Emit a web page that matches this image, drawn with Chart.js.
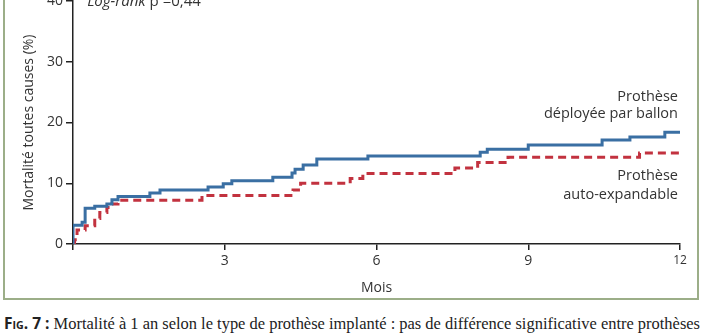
<!DOCTYPE html>
<html>
<head>
<meta charset="utf-8">
<script src="https://cdn.jsdelivr.net/npm/chart.js@4"></script>
<style>
  body { margin: 0; background: #fff; width: 702px; height: 336px; overflow: hidden; position: relative; }
  #box { position: absolute; left: 3px; top: -10px; width: 692px; height: 306px; border: 2px solid #9cae88; }
  #wrap { position: absolute; left: 0; top: -20px; width: 702px; height: 320px; }
  #caption { position: absolute; left: 4px; top: 312px; white-space: nowrap; font-family: "Liberation Serif", serif; font-size: 17px; color: #222; transform-origin: 0 0; }
  #caption b { font-family: "Open Sans", sans-serif; font-variant: small-caps; font-size: 16px; }
</style>
</head>
<body>
<div id="box"></div>
<div id="wrap"><canvas id="chart"></canvas></div>
<div id="caption"><b>Fig. 7 :</b> Mortalité à 1 an selon le type de prothèse implanté : pas de différence significative entre prothèses</div>

<script>
// courbes de Kaplan-Meier (mois / %)
var ballonMois = [0, 0, 0.18, 0.24, 0.43, 0.67, 0.77, 0.89, 1.52, 1.72, 2.67, 2.97, 3.14, 3.95, 4.33, 4.39, 4.55, 4.82, 5.83, 8.05, 8.19, 9.0, 10.46, 11.01, 11.7, 12];
var ballonVal  = [0, 3.1, 3.6, 5.9, 6.2, 6.6, 7.3, 7.8, 8.4, 8.9, 9.4, 9.9, 10.4, 11.0, 11.7, 12.3, 13.0, 14.0, 14.5, 15.1, 15.6, 16.3, 17.1, 17.6, 18.4, 18.4];

var autoMois = [0, 0.03, 0.08, 0.24, 0.43, 0.53, 0.67, 0.77, 0.89, 2.55, 4.35, 4.5, 5.48, 5.73, 7.55, 8.0, 8.6, 11.2, 12];
var autoVal  = [0, 0.7, 2.3, 3.0, 4.2, 5.2, 6.0, 6.6, 7.2, 8.0, 8.9, 10.0, 10.8, 11.6, 12.5, 13.4, 14.3, 15.0, 15.0];

var xTicks = [0, 3, 6, 9, 12];
var yTicks = [0, 10, 20, 30, 40];

function points(xs, ys) {
    return xs.map((x, i) => ({x: x, y: ys[i]}))
}

var textes = {
    id: "textes",
    afterDatasetsDraw(chart) {
        var c = chart.ctx;
        var sx = chart.scales.x, sy = chart.scales.y;
        c.save();
        c.fillStyle = "#333";
        c.textBaseline = "middle";
        // log-rank
        c.textAlign = "left";
        c.font = "italic 15px 'Open Sans'";
        var x0 = sx.getPixelForValue(0.28);
        c.fillText("Log-rank", x0, sy.getPixelForValue(40) + 1);
        var w = c.measureText("Log-rank").width;
        c.font = "15px 'Open Sans'";
        c.fillText(" p =0,44", x0 + w, sy.getPixelForValue(40) + 1);
        // étiquettes des courbes
        c.textAlign = "right";
        c.font = "14.5px 'Open Sans'";
        var xr = sx.getPixelForValue(11.96);
        c.fillText("Prothèse", xr, sy.getPixelForValue(24.3));
        c.fillText("déployée par ballon", xr, sy.getPixelForValue(21.5));
        c.fillText("Prothèse", xr, sy.getPixelForValue(11.2));
        c.fillText("auto-expandable", xr, sy.getPixelForValue(8.1));
        c.restore();
    }
}

new Chart(document.getElementById("chart"), {
    type: "line",
    data: {
        datasets: [{
            label: "Prothèse déployée par ballon",
            data: points(ballonMois, ballonVal),
            stepped: true,
            borderColor: "#3a6fa3",
            borderWidth: 3,
            pointRadius: 0,
            fill: false
        }, {
            label: "Prothèse auto-expandable",
            data: points(autoMois, autoVal),
            stepped: true,
            borderColor: "#c2323f",
            borderWidth: 3,
            borderDash: [8, 5],
            pointRadius: 0,
            fill: false
        }]
    },
    options: {
        responsive: true,
        maintainAspectRatio: false,
        animation: false,
        layout: { padding: { left: 0, right: 22, top: 21, bottom: 0 } },
        plugins: { legend: { display: false }, tooltip: { enabled: false } },
        scales: {
            x: {
                type: "linear",
                min: 0, max: 12,
                afterBuildTicks: s => { s.ticks = xTicks.map(v => ({value: v})) },
                afterFit: s => { s.height = 56 },
                border: { display: true, color: "#222", width: 1.5 },
                grid: { drawOnChartArea: false, drawTicks: true, tickLength: 6, color: "#222", lineWidth: 1.5 },
                ticks: {
                    color: "#333",
                    padding: 3,
                    font: ctx => ({ family: "'Open Sans'", size: ctx.tick && ctx.tick.value === 12 ? 12 : 14 }),
                    callback: v => v === 0 ? "" : v
                },
                title: { display: true, text: "Mois", color: "#333", font: { family: "'Open Sans'", size: 14 }, padding: { top: 0, bottom: 4 } }
            },
            y: {
                min: 0, max: 40,
                afterBuildTicks: s => { s.ticks = yTicks.map(v => ({value: v})) },
                afterFit: s => { s.width = 73 },
                border: { display: true, color: "#222", width: 1.5 },
                grid: { drawOnChartArea: false, drawTicks: true, tickLength: 7, color: "#222", lineWidth: 1.5 },
                ticks: { color: "#333", padding: 3, font: { family: "'Open Sans'", size: 14 } },
                title: { display: true, text: "Mortalité toutes causes (%)", color: "#333", font: { family: "'Open Sans'", size: 14 }, padding: { top: 21, bottom: 0 } }
            }
        }
    },
    plugins: [textes]
});

// ajuster la légende à la largeur de la figure
var cap = document.getElementById("caption");
var cw = cap.getBoundingClientRect().width;
cap.style.transform = "scaleX(" + (696 / cw) + ")";
</script>
</body>
</html>
